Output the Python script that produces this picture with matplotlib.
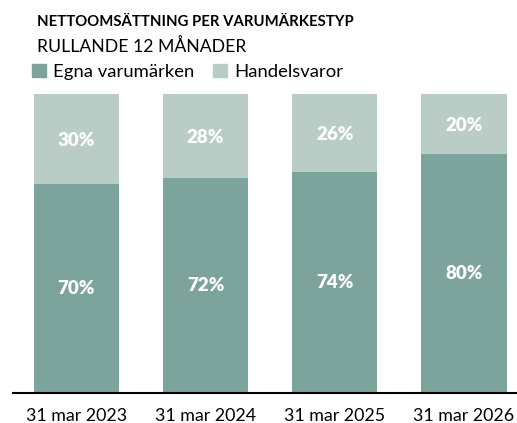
import matplotlib
matplotlib.use("Agg")
import matplotlib.pyplot as plt
from matplotlib.patches import Patch

plt.rcParams['font.family'] = ['Lato', 'DejaVu Sans']

dates = ["31 mar 2023", "31 mar 2024", "31 mar 2025", "31 mar 2026"]
egna = [70, 72, 74, 80]
handel = [30, 28, 26, 20]

dark = '#7ca39c'
light = '#b9cdc6'

fig = plt.figure(figsize=(5.17, 4.23), dpi=100)
ax = fig.add_axes([13 / 517, 1 - 393 / 423, 1 - 13 / 517, (393 - 94) / 423])

x = range(len(dates))
w = 0.66
ax.bar(x, egna, width=w, color=dark)
ax.bar(x, handel, width=w, bottom=egna, color=light)

for i in x:
    ax.text(i, egna[i] / 2, f"{egna[i]}%", ha='center', va='center',
            color='white', fontsize=13.5, fontweight='heavy')
    ax.text(i, egna[i] + handel[i] / 2 - 0.5, f"{handel[i]}%", ha='center', va='center',
            color='white', fontsize=13.5, fontweight='heavy')

ax.set_xlim(-0.49, 3.41)
ax.set_ylim(0, 100)
ax.set_xticks(list(x))
ax.set_xticklabels(dates, fontsize=12.8)
ax.tick_params(axis='x', length=0, pad=11)
ax.set_yticks([])
for s in ['top', 'right', 'left']:
    ax.spines[s].set_visible(False)
ax.spines['bottom'].set_linewidth(1.5)

fig.text(37 / 517, 1 - 22 / 423, "NETTOOMSÄTTNING PER VARUMÄRKESTYP", fontsize=10.7,
         fontweight='bold', va='center', ha='left')
fig.text(37 / 517, 1 - 46 / 423, "RULLANDE 12 MÅNADER", fontsize=12.7,
         va='center', ha='left')

handles = [Patch(color=dark, label="Egna varumärken"), Patch(color=light, label="Handelsvaror")]
fig.legend(handles=handles, loc='center left', bbox_to_anchor=(32 / 517, 1 - 72 / 423),
           ncol=2, frameon=False, fontsize=13.3, handlelength=0.75, handleheight=0.75,
           handletextpad=0.4, columnspacing=1.0, borderaxespad=0, borderpad=0)

fig.savefig("out.png", dpi=100)
